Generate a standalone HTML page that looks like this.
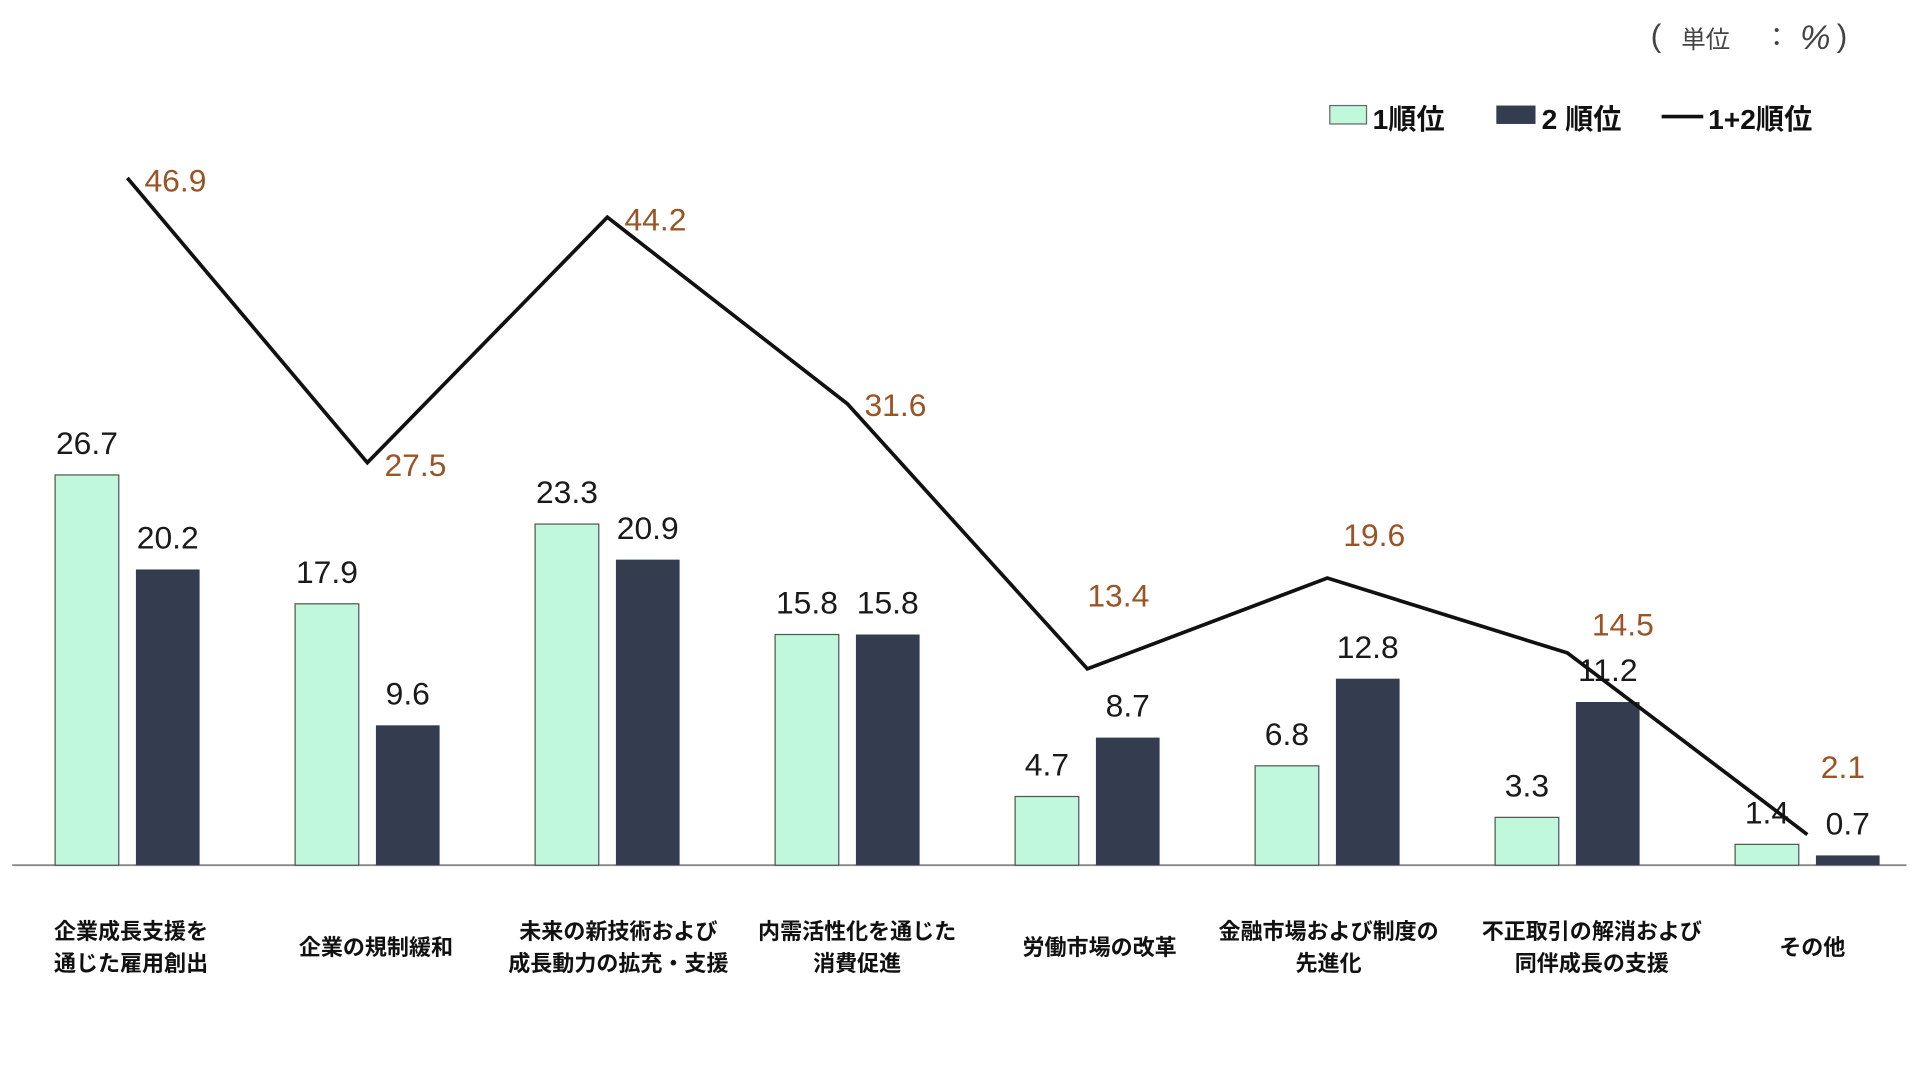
<!DOCTYPE html>
<html><head><meta charset="utf-8"><style>
html,body{margin:0;padding:0;background:#fff;width:1920px;height:1080px;overflow:hidden}
svg{display:block}
.v{font-family:"Liberation Sans","Noto Sans CJK JP",sans-serif;font-size:26px;fill:#1a1a1a;text-anchor:middle}
.r{font-family:"Liberation Sans",sans-serif;font-size:26px;fill:#9a5426}
.c{font-family:"Liberation Sans","Noto Sans CJK JP",sans-serif;font-size:18px;font-weight:bold;fill:#111;text-anchor:middle}
.l{font-family:"Liberation Sans","Noto Sans CJK JP",sans-serif;font-size:23px;font-weight:bold;fill:#111}
</style></head><body>
<svg width="1920" height="1080" viewBox="0 0 1568 880" preserveAspectRatio="none">
<g font-family="Liberation Sans,Noto Sans CJK JP,sans-serif" fill="#444">
<text x="1348" y="38" font-size="26">(</text>
<text x="1373" y="39" font-size="20">単位</text>
<text x="1440" y="38" font-size="22">：</text>
<text x="1470" y="40" font-size="28" font-style="italic">%</text>
<text x="1500" y="38" font-size="26">)</text>
</g>
<rect x="1086" y="86" width="30" height="15" fill="#c0f8dc" stroke="#666"/>
<text class="l" x="1121" y="105">1順位</text>
<rect x="1222" y="86" width="32" height="15" fill="#343d50"/>
<text class="l" x="1259" y="105">2 順位</text>
<line x1="1357" y1="95" x2="1391" y2="95" stroke="#111" stroke-width="3"/>
<text class="l" x="1395" y="105">1+2順位</text>
<line x1="10" y1="705" x2="1557" y2="705" stroke="#888" stroke-width="1.5"/>
<g stroke="#555" stroke-width="1">
<rect x="45" y="387" width="52" height="318" fill="#c0f8dc"/>
<rect x="241" y="492" width="52" height="213" fill="#c0f8dc"/>
<rect x="437" y="427" width="52" height="278" fill="#c0f8dc"/>
<rect x="633" y="517" width="52" height="188" fill="#c0f8dc"/>
<rect x="829" y="649" width="52" height="56" fill="#c0f8dc"/>
<rect x="1025" y="624" width="52" height="81" fill="#c0f8dc"/>
<rect x="1221" y="666" width="52" height="39" fill="#c0f8dc"/>
<rect x="1417" y="688" width="52" height="17" fill="#c0f8dc"/>
</g>
<g fill="#343d50">
<rect x="111" y="464" width="52" height="241"/>
<rect x="307" y="591" width="52" height="114"/>
<rect x="503" y="456" width="52" height="249"/>
<rect x="699" y="517" width="52" height="188"/>
<rect x="895" y="601" width="52" height="104"/>
<rect x="1091" y="553" width="52" height="152"/>
<rect x="1287" y="572" width="52" height="133"/>
<rect x="1483" y="697" width="52" height="8"/>
</g>
<g class="v">
<text x="71" y="370">26.7</text><text x="137" y="447">20.2</text>
<text x="267" y="475">17.9</text><text x="333" y="574">9.6</text>
<text x="463" y="410">23.3</text><text x="529" y="439">20.9</text>
<text x="659" y="500">15.8</text><text x="725" y="500">15.8</text>
<text x="855" y="632">4.7</text><text x="921" y="584">8.7</text>
<text x="1051" y="607">6.8</text><text x="1117" y="536">12.8</text>
<text x="1247" y="649">3.3</text><text x="1313" y="555">11.2</text>
<text x="1443" y="671">1.4</text><text x="1509" y="680">0.7</text>
</g>
<polyline points="104,145 300,377 496,177 692,329 888,545 1084,471 1280,532 1476,680" fill="none" stroke="#111" stroke-width="3"/>
<g class="r">
<text x="118" y="156">46.9</text><text x="314" y="388">27.5</text>
<text x="510" y="188">44.2</text><text x="706" y="339">31.6</text>
<text x="888" y="494">13.4</text><text x="1097" y="445">19.6</text>
<text x="1300" y="518">14.5</text><text x="1487" y="634">2.1</text>
</g>
<g class="c">
<text x="107" y="765">企業成長支援を</text><text x="107" y="791">通じた雇用創出</text>
<text x="307" y="778">企業の規制緩和</text>
<text x="505" y="765">未来の新技術および</text><text x="505" y="791">成長動力の拡充・支援</text>
<text x="700" y="765">内需活性化を通じた</text><text x="700" y="791">消費促進</text>
<text x="898" y="778">労働市場の改革</text>
<text x="1085" y="765">金融市場および制度の</text><text x="1085" y="791">先進化</text>
<text x="1300" y="765">不正取引の解消および</text><text x="1300" y="791">同伴成長の支援</text>
<text x="1480" y="778">その他</text>
</g>
</svg>
</body></html>
